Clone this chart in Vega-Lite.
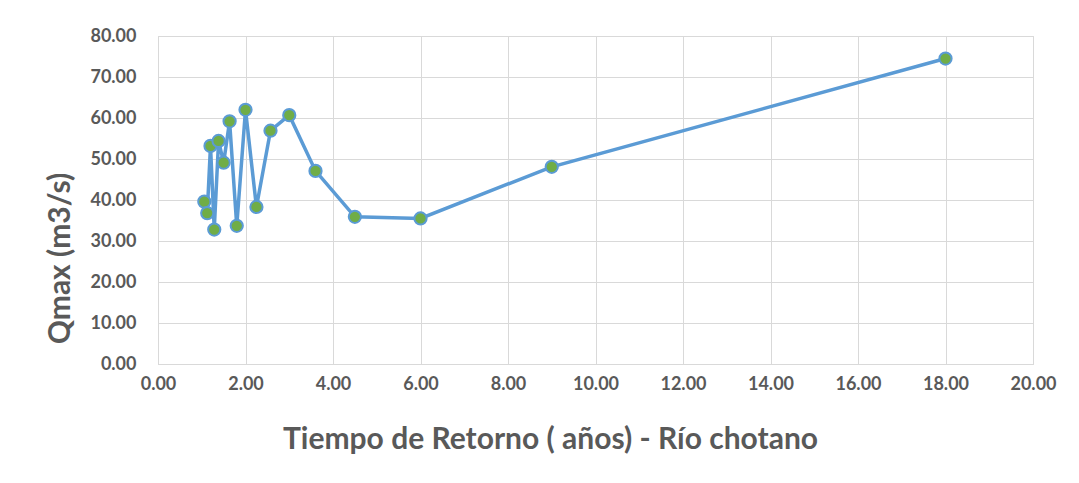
{
  "$schema": "https://vega.github.io/schema/vega-lite/v6.json",
  "autosize": "none",
  "width": 875,
  "height": 328,
  "padding": {"left": 158, "top": 36, "right": 46, "bottom": 119},
  "background": "white",
  "data": {"values": [
    {"T": 1.0588, "Q": 39.6},
    {"T": 1.125, "Q": 36.8},
    {"T": 1.2, "Q": 53.2},
    {"T": 1.2857, "Q": 32.8},
    {"T": 1.3846, "Q": 54.4},
    {"T": 1.5, "Q": 49.1},
    {"T": 1.6364, "Q": 59.2},
    {"T": 1.8, "Q": 33.7},
    {"T": 2.0, "Q": 62.0},
    {"T": 2.25, "Q": 38.3},
    {"T": 2.5714, "Q": 56.9},
    {"T": 3.0, "Q": 60.7},
    {"T": 3.6, "Q": 47.1},
    {"T": 4.5, "Q": 35.9},
    {"T": 6.0, "Q": 35.5},
    {"T": 9.0, "Q": 48.1},
    {"T": 18.0, "Q": 74.5}
  ]},
  "encoding": {
    "x": {"field": "T", "type": "quantitative", "sort": null,
      "scale": {"domain": [0, 20], "nice": false},
      "axis": {"title": "Tiempo de Retorno ( años) - Río chotano", "values": [0,2,4,6,8,10,12,14,16,18,20], "format": ".2f",
        "labelFlush": false, "labelOverlap": false,
        "titleX": 392, "titleY": 84, "titleAlign": "center", "titleBaseline": "alphabetic", "titleAnchor": null}},
    "y": {"field": "Q", "type": "quantitative",
      "scale": {"domain": [0, 80], "nice": false},
      "axis": {"title": "Qmax (m3/s)", "values": [0,10,20,30,40,50,60,70,80], "format": ".2f",
        "labelFlush": false, "labelOverlap": false,
        "titleX": -98, "titleY": 222, "titleAlign": "center", "titleBaseline": "middle", "titleAngle": -90}}
  },
  "layer": [
    {"mark": {"type": "line", "color": "#5B9BD5", "strokeWidth": 3.5}},
    {"mark": {"type": "point", "filled": true, "fill": "#70AD47", "stroke": "#5B9BD5", "strokeWidth": 2, "size": 150, "opacity": 1}}
  ],
  "config": {
    "font": "Lato",
    "view": {"stroke": "#d9d9d9", "strokeWidth": 1},
    "axis": {
      "grid": true, "gridColor": "#d9d9d9", "gridWidth": 1,
      "domain": true, "domainColor": "#d9d9d9", "domainWidth": 1,
      "ticks": false,
      "labelFont": "Lato", "labelFontSize": 18, "labelFontWeight": "bold", "labelColor": "#595959",
      "titleFont": "Lato", "titleFontSize": 30, "titleFontWeight": "bold", "titleColor": "#595959"
    },
    "axisY": {"labelPadding": 22},
    "axisX": {"labelPadding": 11}
  }
}
